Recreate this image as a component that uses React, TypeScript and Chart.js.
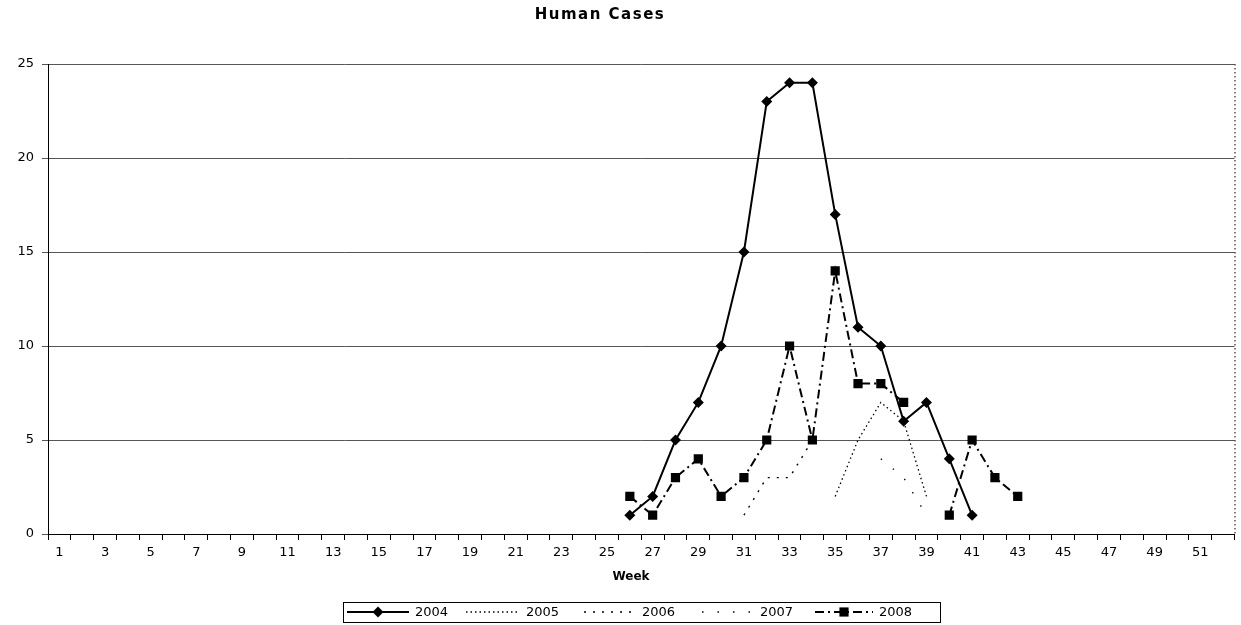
import { useEffect, useRef } from "react";
import { Chart, registerables } from "chart.js";

Chart.register(...registerables);

// Week numbers along the x axis
const weekLabels: string[] = Array.from({ length: 52 }, (_, i) => String(i + 1));

// Weekly human case counts, one list per season, starting at the given week
const firstWeek2004 = 26;
const cases2004 = [1, 2, 5, 7, 10, 15, 23, 24, 24, 17, 11, 10, 6, 7, 4, 1];

const firstWeek2005 = 35;
const cases2005 = [2, 5, 7, 6, 2];

const firstWeek2006 = 31;
const cases2006 = [1, 3, 3, 5];

const firstWeek2007 = 37;
const cases2007 = [4, 3, 1];

const firstWeek2008 = 26;
const cases2008 = [2, 1, 3, 4, 2, 3, 5, 10, 5, 14, 8, 8, 7, null, 1, 5, 3, 2];

// Y axis ticks
const yMax = 25;
const yStep = 5;

const FONT = '"DejaVu Sans", "Liberation Sans", Arial, sans-serif';

function toWeekly(first: number, values: (number | null)[]): (number | null)[] {
  return weekLabels.map((_, i) => {
    const k = i + 1 - first;
    return k >= 0 && k < values.length ? values[k] : null;
  });
}

type SeriesStyle = {
  label: string;
  dash: number[];
  width: number;
  point: "rectRot" | "rect" | false;
  radius: number;
};

const styles: SeriesStyle[] = [
  { label: "2004", dash: [], width: 2, point: "rectRot", radius: 5.5 },
  { label: "2005", dash: [1.5, 3], width: 1.3, point: false, radius: 0 },
  { label: "2006", dash: [2, 7], width: 1.4, point: false, radius: 0 },
  { label: "2007", dash: [1.5, 14], width: 1.3, point: false, radius: 0 },
  { label: "2008", dash: [9, 4, 2, 4], width: 2, point: "rect", radius: 6.5 },
];

const seriesData = [
  toWeekly(firstWeek2004, cases2004),
  toWeekly(firstWeek2005, cases2005),
  toWeekly(firstWeek2006, cases2006),
  toWeekly(firstWeek2007, cases2007),
  toWeekly(firstWeek2008, cases2008),
];

// Title, axis title, legend box and dotted right edge
const decorations = {
  id: "decorations",
  afterDraw(chart: Chart) {
    const ctx = chart.ctx;
    const area = chart.chartArea;
    ctx.save();

    // right edge of the plot
    ctx.strokeStyle = "#000";
    ctx.lineWidth = 1;
    ctx.setLineDash([1.5, 2.5]);
    ctx.beginPath();
    ctx.moveTo(area.right + 0.5, area.top);
    ctx.lineTo(area.right + 0.5, area.bottom);
    ctx.stroke();
    ctx.setLineDash([]);

    // chart title
    ctx.fillStyle = "#000";
    ctx.textAlign = "center";
    ctx.textBaseline = "middle";
    (ctx as any).letterSpacing = "1.5px";
    ctx.font = `bold 15px ${FONT}`;
    ctx.fillText("Human Cases", 600, 15);
    (ctx as any).letterSpacing = "0px";

    // x axis title
    ctx.font = `bold 12px ${FONT}`;
    ctx.fillText("Week", 631, 577);

    // legend
    const boxL = 343;
    const boxR = 940;
    const boxT = 602;
    const boxB = 622;
    ctx.strokeRect(boxL + 0.5, boxT + 0.5, boxR - boxL, boxB - boxT);
    const cy = 612;
    const itemStarts = [347, 466, 584, 702, 815];
    const sampleLen = [62, 54, 52, 52, 58];
    ctx.font = `13px ${FONT}`;
    ctx.textAlign = "left";
    styles.forEach((s, i) => {
      const x0 = itemStarts[i];
      const x1 = x0 + sampleLen[i];
      ctx.strokeStyle = "#000";
      ctx.lineWidth = s.width;
      ctx.setLineDash(s.dash);
      ctx.beginPath();
      ctx.moveTo(x0, cy);
      ctx.lineTo(x1, cy);
      ctx.stroke();
      ctx.setLineDash([]);
      if (s.point) {
        const mx = (x0 + x1) / 2;
        ctx.fillStyle = "#000";
        ctx.beginPath();
        if (s.point === "rectRot") {
          const r = s.radius;
          ctx.moveTo(mx - r, cy);
          ctx.lineTo(mx, cy - r);
          ctx.lineTo(mx + r, cy);
          ctx.lineTo(mx, cy + r);
          ctx.closePath();
        } else {
          const h = s.radius * Math.SQRT1_2;
          ctx.rect(mx - h, cy - h, 2 * h, 2 * h);
        }
        ctx.fill();
      }
      ctx.fillStyle = "#000";
      ctx.fillText(s.label, x1 + 6, cy + 1);
    });

    ctx.restore();
  },
};

export default function App() {
  const canvasRef = useRef<HTMLCanvasElement | null>(null);

  useEffect(() => {
    document.body.style.margin = "0";
    document.body.style.background = "#fff";
    const canvas = canvasRef.current;
    if (!canvas) return;

    const chart = new Chart(canvas, {
      type: "line",
      data: {
        labels: weekLabels,
        datasets: styles.map((s, i) => ({
          label: s.label,
          data: seriesData[i],
          borderColor: "#000",
          backgroundColor: "#000",
          borderWidth: s.width,
          borderDash: s.dash,
          pointStyle: s.point || "circle",
          pointRadius: s.point ? s.radius : 0,
          pointBorderWidth: 0,
          pointBackgroundColor: "#000",
          tension: 0,
          spanGaps: false,
          fill: false,
        })),
      },
      options: {
        responsive: false,
        animation: false,
        events: [],
        layout: { padding: { top: 64, right: 4, left: 0, bottom: 0 } },
        plugins: {
          legend: { display: false },
          title: { display: false },
          tooltip: { enabled: false },
        },
        scales: {
          x: {
            type: "category",
            offset: true,
            grid: {
              offset: true,
              drawOnChartArea: false,
              drawTicks: true,
              tickLength: 6,
              color: "#000",
            },
            border: { display: true, color: "#000", width: 1 },
            ticks: {
              autoSkip: false,
              maxRotation: 0,
              minRotation: 0,
              padding: 5,
              color: "#000",
              font: { family: FONT, size: 13 },
              callback: (_v: any, i: number) => (i % 2 === 0 ? weekLabels[i] : ""),
            },
            afterFit: (scale: any) => {
              scale.height = 91;
            },
          },
          y: {
            min: 0,
            max: yMax,
            grid: {
              color: "#555",
              lineWidth: 1,
              drawTicks: true,
              tickLength: 6,
            },
            border: { display: true, color: "#000", width: 1 },
            ticks: {
              stepSize: yStep,
              padding: 8,
              color: "#000",
              font: { family: FONT, size: 13 },
            },
            afterFit: (scale: any) => {
              scale.width = 48;
            },
          },
        },
      },
      plugins: [decorations],
    });

    return () => chart.destroy();
  }, []);

  return <canvas ref={canvasRef} width={1241} height={625} style={{ display: "block" }} />;
}
